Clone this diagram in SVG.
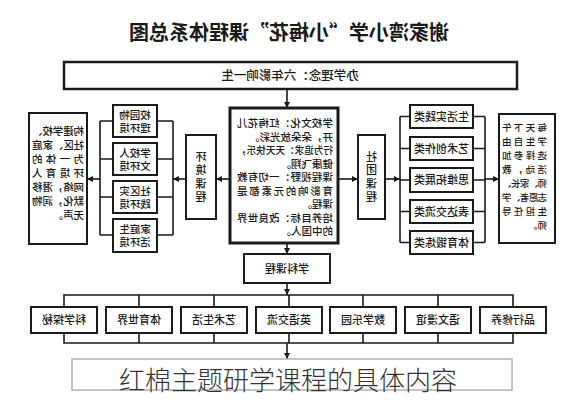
<svg xmlns="http://www.w3.org/2000/svg" width="576" height="400" viewBox="0 0 576 400">
<style>
text{font-family:"Noto Sans CJK SC","Noto Sans CJK TC",sans-serif;fill:#1a1a1a;font-weight:500}
.box{fill:#fff;stroke:#1a1a1a;stroke-width:2}
.thick{fill:#fff;stroke:#1a1a1a;stroke-width:3}
.ln{fill:none;stroke:#1a1a1a;stroke-width:1.6}
.c{text-anchor:middle}
.s{text-anchor:start}
.t11{font-size:11px}
.t10{font-size:10.5px}
.v{writing-mode:tb;text-anchor:middle;font-size:11px;letter-spacing:2.5px}
</style>
<defs>
<marker id="ah" markerUnits="userSpaceOnUse" markerWidth="6" markerHeight="6" refX="6" refY="3" orient="auto">
<path d="M0,0 L6,3 L0,6 z" fill="#1a1a1a"/>
</marker>
</defs>
<rect width="576" height="400" fill="#fff"/>

<g id="connectors">
<line class="ln" x1="287" y1="89" x2="287" y2="108" marker-end="url(#ah)"/>
<line class="ln" x1="230" y1="179" x2="216" y2="179" marker-end="url(#ah)"/>
<line class="ln" x1="186" y1="179" x2="173" y2="179" marker-end="url(#ah)"/>
<path class="ln" d="M157,121 H173 M157,159 H173 M157,197 H173 M157,235 H173 M173,121 V235"/>
<path class="ln" d="M113,121 H100 M113,159 H100 M113,197 H100 M113,235 H100 M100,121 V235"/>
<line class="ln" x1="100" y1="179" x2="87" y2="179" marker-end="url(#ah)"/>
<line class="ln" x1="338" y1="179" x2="358" y2="179" marker-end="url(#ah)"/>
<line class="ln" x1="385" y1="179" x2="400" y2="179" marker-end="url(#ah)"/>
<path class="ln" d="M410,116.5 H400 M410,148.5 H400 M410,180 H400 M410,211.5 H400 M410,242.5 H400 M400,116.5 V242.5"/>
<path class="ln" d="M473,116.5 H485 M473,148.5 H485 M473,180 H485 M473,211.5 H485 M473,242.5 H485 M485,116.5 V242.5"/>
<line class="ln" x1="485" y1="179" x2="499" y2="179" marker-end="url(#ah)"/>
<line class="ln" x1="287" y1="243" x2="287" y2="254" marker-end="url(#ah)"/>
<line class="ln" x1="287" y1="283" x2="287" y2="295" marker-end="url(#ah)"/>
<path class="ln" d="M64,307 V295 H513 V307 M139,295 V307 M214,295 V307 M289,295 V307 M363,295 V307 M438,295 V307"/>
<path class="ln" d="M64,333 V343 H513 V333 M139,333 V343 M214,333 V343 M289,333 V343 M363,333 V343 M438,333 V343"/>
<line class="ln" x1="287" y1="343" x2="287" y2="359" marker-end="url(#ah)"/>
</g>

<g id="title"><text class="c" transform="matrix(-1,0,0,1,576,0)" x="287" y="40" style="font-size:20px;font-weight:700">谢家湾小学“小梅花”课程体系总图</text></g>

<g id="philosophy">
<rect x="64" y="62" width="453" height="27" style="fill:#fff;stroke:#1a1a1a;stroke-width:2.5"/>
<text class="c" transform="matrix(-1,0,0,1,576,0)" x="286" y="80" style="font-size:12.5px">办学理念：六年影响一生</text>
</g>

<g id="core">
<rect class="thick" x="230" y="108" width="108" height="135"/>
<g transform="matrix(-1,0,0,1,576,0)" class="t10">
<text class="s" x="243" y="127" textLength="96" lengthAdjust="spacing">学校文化：红梅花儿</text>
<text class="s" x="243" y="140.5">开，朵朵放光彩。</text>
<text class="s" x="243" y="154" textLength="96" lengthAdjust="spacingAndGlyphs">行为追求：天天快乐，</text>
<text class="s" x="243" y="167.5">健康飞翔。</text>
<text class="s" x="243" y="181" textLength="96" lengthAdjust="spacing">课程视野：一切有教</text>
<text class="s" x="243" y="194.5" textLength="96" lengthAdjust="spacing">育影响的元素都是</text>
<text class="s" x="243" y="208">课程。</text>
<text class="s" x="243" y="221.5" textLength="96" lengthAdjust="spacing">培养目标：改良世界</text>
<text class="s" x="243" y="235">的中国人。</text>
</g>
</g>

<g id="env-course">
<rect class="box" x="186" y="135" width="30" height="84"/>
<text class="v" transform="matrix(-1,0,0,1,576,0)" x="375" y="178">环境课程</text>
</g>

<g id="env-1"><rect class="box" x="113" y="105" width="44" height="32"/>
<text class="c t10" transform="matrix(-1,0,0,1,576,0)" x="441" y="119">校园物<tspan x="441" dy="13">理环境</tspan></text></g>
<g id="env-2"><rect class="box" x="113" y="143" width="44" height="32"/>
<text class="c t10" transform="matrix(-1,0,0,1,576,0)" x="441" y="157">学校人<tspan x="441" dy="13">文环境</tspan></text></g>
<g id="env-3"><rect class="box" x="113" y="181" width="44" height="32"/>
<text class="c t10" transform="matrix(-1,0,0,1,576,0)" x="441" y="195">社区实<tspan x="441" dy="13">践环境</tspan></text></g>
<g id="env-4"><rect class="box" x="113" y="219" width="44" height="33"/>
<text class="c t10" transform="matrix(-1,0,0,1,576,0)" x="441" y="233">家庭生<tspan x="441" dy="13">活环境</tspan></text></g>

<g id="env-desc">
<rect class="box" x="29" y="113" width="58" height="131"/>
<g transform="matrix(-1,0,0,1,576,0)" class="t10">
<text class="s" x="492" y="135" textLength="52" lengthAdjust="spacing">构建学校、</text>
<text class="s" x="492" y="149" textLength="52" lengthAdjust="spacing">社区、家庭</text>
<text class="s" x="492" y="163" textLength="52" lengthAdjust="spacing">为一体的</text>
<text class="s" x="492" y="177" textLength="52" lengthAdjust="spacing">环境育人</text>
<text class="s" x="492" y="191" textLength="52" lengthAdjust="spacing">网络，潜移</text>
<text class="s" x="492" y="205" textLength="52" lengthAdjust="spacing">默化，润物</text>
<text class="s" x="492" y="219">无声。</text>
</g>
</g>

<g id="club-course">
<rect class="box" x="358" y="135" width="27" height="84"/>
<text class="v" transform="matrix(-1,0,0,1,576,0)" x="204.5" y="178">社团课程</text>
</g>

<g id="club-1"><rect class="box" x="410" y="105" width="63" height="23"/><text class="c t11" transform="matrix(-1,0,0,1,576,0)" x="134.5" y="120.5">生活实践类</text></g>
<g id="club-2"><rect class="box" x="410" y="137" width="63" height="23"/><text class="c t11" transform="matrix(-1,0,0,1,576,0)" x="134.5" y="152.5">艺术创作类</text></g>
<g id="club-3"><rect class="box" x="410" y="168" width="63" height="24"/><text class="c t11" transform="matrix(-1,0,0,1,576,0)" x="134.5" y="184">思维拓展类</text></g>
<g id="club-4"><rect class="box" x="410" y="200" width="63" height="23"/><text class="c t11" transform="matrix(-1,0,0,1,576,0)" x="134.5" y="215.5">表达交流类</text></g>
<g id="club-5"><rect class="box" x="410" y="231" width="63" height="23"/><text class="c t11" transform="matrix(-1,0,0,1,576,0)" x="134.5" y="246.5">体育锻炼类</text></g>

<g id="club-desc">
<rect class="box" x="499" y="114" width="56" height="129"/>
<g transform="matrix(-1,0,0,1,576,0)" style="font-size:9.5px">
<text class="s" x="29" y="130.5" textLength="45" lengthAdjust="spacing">每天下午</text>
<text class="s" x="29" y="144.5" textLength="45" lengthAdjust="spacing">学生自由</text>
<text class="s" x="29" y="158.5" textLength="45" lengthAdjust="spacing">选择参加</text>
<text class="s" x="29" y="172.5" textLength="45" lengthAdjust="spacing">活动，教</text>
<text class="s" x="29" y="186.5" textLength="45" lengthAdjust="spacing">师、家长、</text>
<text class="s" x="29" y="200.5" textLength="45" lengthAdjust="spacing">志愿者、学</text>
<text class="s" x="29" y="214.5" textLength="45" lengthAdjust="spacing">生担任导</text>
<text class="s" x="29" y="228.5">师。</text>
</g>
</g>

<g id="subject-course"><rect class="box" x="244" y="254" width="86" height="29"/><text class="c t11" transform="matrix(-1,0,0,1,576,0)" x="289" y="272.5">学科课程</text></g>

<g id="sub-1"><rect class="box" x="31" y="307" width="66" height="26"/><text class="c t11" transform="matrix(-1,0,0,1,576,0)" x="512" y="324">科学探秘</text></g>
<g id="sub-2"><rect class="box" x="106" y="307" width="66" height="26"/><text class="c t11" transform="matrix(-1,0,0,1,576,0)" x="437" y="324">体育世界</text></g>
<g id="sub-3"><rect class="box" x="181" y="307" width="66" height="26"/><text class="c t11" transform="matrix(-1,0,0,1,576,0)" x="362" y="324">艺术生活</text></g>
<g id="sub-4"><rect class="box" x="256" y="307" width="66" height="26"/><text class="c t11" transform="matrix(-1,0,0,1,576,0)" x="287" y="324">英语交流</text></g>
<g id="sub-5"><rect class="box" x="330" y="307" width="66" height="26"/><text class="c t11" transform="matrix(-1,0,0,1,576,0)" x="213" y="324">数学乐园</text></g>
<g id="sub-6"><rect class="box" x="405" y="307" width="66" height="26"/><text class="c t11" transform="matrix(-1,0,0,1,576,0)" x="138" y="324">语文漫谊</text></g>
<g id="sub-7"><rect class="box" x="480" y="307" width="66" height="26"/><text class="c t11" transform="matrix(-1,0,0,1,576,0)" x="63" y="324">品行修养</text></g>

<g id="caption">
<rect x="72" y="359" width="440" height="31" style="fill:#fff;stroke:#b0b0b0;stroke-width:1.5"/>
<text class="c" x="288" y="390" style="font-size:26px;font-weight:300;fill:#333">红棉主题研学课程的具体内容</text>
</g>
</svg>
